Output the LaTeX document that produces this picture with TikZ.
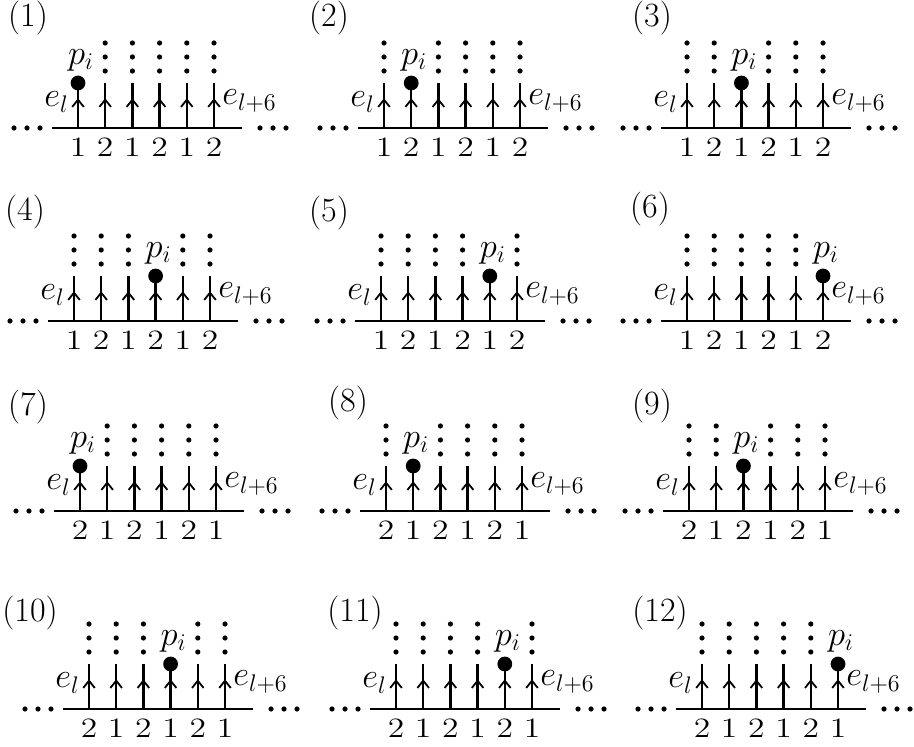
\documentclass[tikz,border=0pt]{standalone}
\usetikzlibrary{arrows.meta,decorations.markings}
\begin{document}
\begin{tikzpicture}[x=0.5pt,y=-0.5pt,
  edgeline/.style={line width=1.2pt},
  vedge/.style={line width=1.15pt, postaction={decorate},
    decoration={markings, mark=at position 0.66 with {\arrow{Straight Barb[length=3.6pt,width=5.8pt,line width=0.9pt]}}}},
  ball/.style={circle, fill=black, inner sep=0pt, minimum size=7.4pt},
  vdot/.style={circle, fill=black, inner sep=0pt, minimum size=2.6pt},
  hdot/.style={circle, fill=black, inner sep=0pt, minimum size=2.6pt},
  plab/.style={inner sep=0pt, font=\fontsize{17}{20}\selectfont},
  mlab/.style={inner sep=0pt, font=\fontsize{17}{20}\selectfont},
  num/.style={inner sep=0pt, font=\fontsize{14}{16}\selectfont}]
\useasboundingbox (0,0) rectangle (914,747);
\newcommand{\Panel}[7]{%
  \node[plab] (L#1) at (#6,#7) {(#1)};
  \coordinate (A#1) at ({#2-26},#3);
  \coordinate (B#1) at ({#2+164},#3);
  \draw[edgeline] (A#1) -- (B#1);
  \node[hdot] (dl1-#1) at ({#2-64},#3) {};
  \node[hdot] (dl2-#1) at ({#2-51},#3) {};
  \node[hdot] (dl3-#1) at ({#2-38},#3) {};
  \node[hdot] (dr1-#1) at ({#2+182},#3) {};
  \node[hdot] (dr2-#1) at ({#2+195},#3) {};
  \node[hdot] (dr3-#1) at ({#2+208},#3) {};
  \node[mlab, anchor=east] (el#1) at ({#2-9},{#3-26}) {$e_l$};
  \node[mlab, anchor=west] (er#1) at ({#2+136+8},{#3-27}) {$e_{l+6}$};
  \foreach \j in {0,...,5} {
    \pgfmathsetmacro{\xx}{#2+27.2*\j}
    \pgfmathtruncatemacro{\dd}{mod(\j+#5-1,2)+1}
    \coordinate (b#1-\j) at (\xx,#3);
    \coordinate (t#1-\j) at (\xx,{#3-45});
    \draw[vedge] (b#1-\j) -- (t#1-\j);
    \node[num] (n#1-\j) at (\xx,{#3+19}) {\scalebox{1.2}[1]{\dd}};
    \ifnum\j=#4\relax
      \node[ball] (ball#1) at (t#1-\j) {};
      \node[plab] (pi#1) at ({\xx+3},{#3-68}) {$p_i$};
    \else
      \node[vdot] (va#1-\j) at (\xx,{#3-57}) {};
      \node[vdot] (vb#1-\j) at (\xx,{#3-71}) {};
      \node[vdot] (vc#1-\j) at (\xx,{#3-85}) {};
    \fi
  }
}
\Panel{1}{78}{128}{0}{1}{28}{18}
\Panel{2}{384}{128}{1}{1}{329}{18}
\Panel{3}{687}{128}{2}{1}{652}{18}
\Panel{4}{74}{321}{3}{1}{25}{212}
\Panel{5}{381}{321}{4}{1}{329}{213}
\Panel{6}{687}{321}{5}{1}{650}{209}
\Panel{7}{80}{511}{0}{2}{28}{407}
\Panel{8}{386}{511}{1}{2}{348}{403}
\Panel{9}{689}{511}{2}{2}{652}{406}
\Panel{10}{89}{709}{3}{2}{30}{613}
\Panel{11}{396}{709}{4}{2}{355}{613}
\Panel{12}{702}{709}{5}{2}{660}{613}
\end{tikzpicture}
\end{document}
